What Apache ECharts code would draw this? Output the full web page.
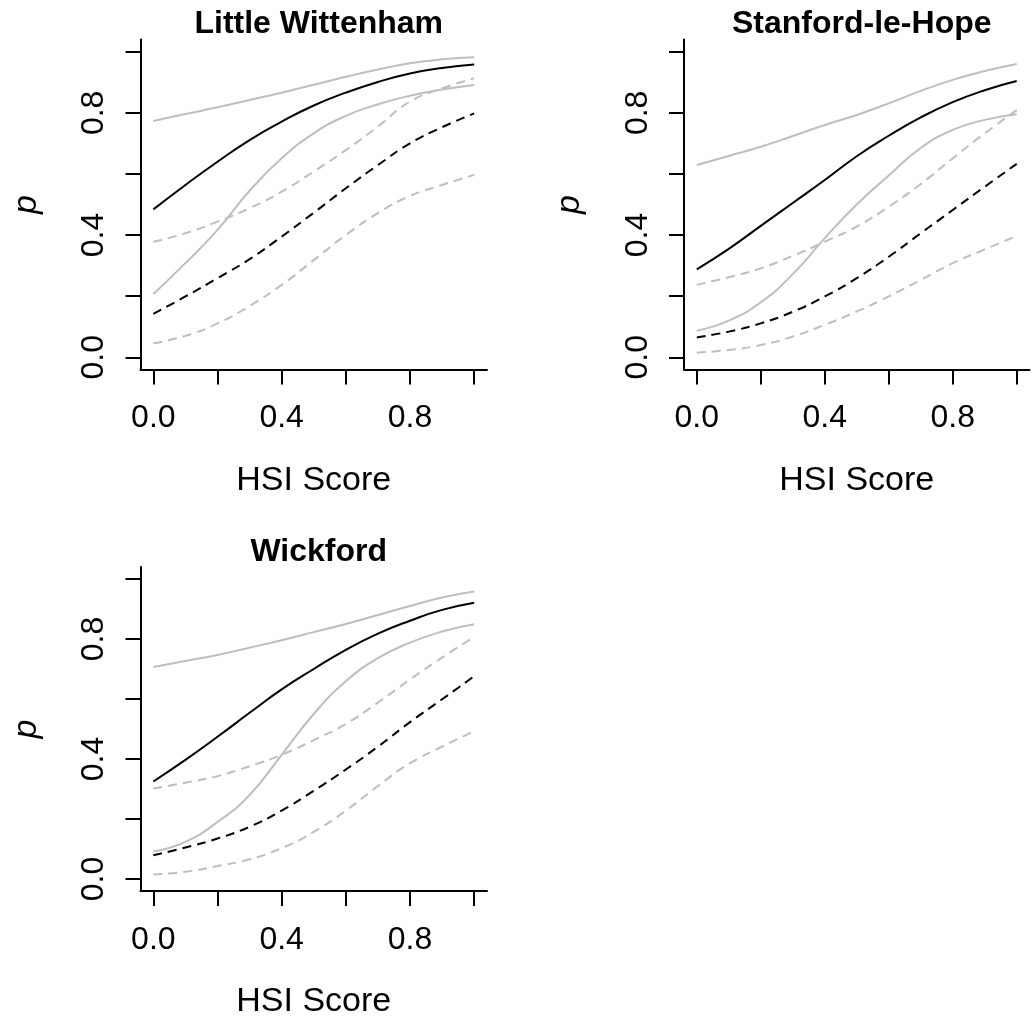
<!DOCTYPE html>
<html>
<head>
<meta charset="utf-8">
<script src="https://cdn.jsdelivr.net/npm/echarts@6/dist/echarts.min.js"></script>
<style>
html,body{margin:0;padding:0;background:#fff;}
#main{width:1035px;height:1020px;}
</style>
</head>
<body>
<div id="main"></div>
<script>
// HSI score sample points (x)
const hsi = [0, 0.1, 0.2, 0.3, 0.4, 0.5, 0.6, 0.7, 0.8, 0.9, 1.0];

const panelTitles = ['Little Wittenham', 'Stanford-le-Hope', 'Wickford'];
const xTicks = [0, 0.2, 0.4, 0.6, 0.8, 1.0];
const xTickLabels = [0, 0.4, 0.8];
const yTicks = [0, 0.2, 0.4, 0.6, 0.8, 1.0];
const yTickLabels = [0, 0.4, 0.8];
const xAxisTitle = 'HSI Score';
const yAxisTitle = 'p';

// Little Wittenham
const lwSolidMean  = [0.484, 0.564, 0.640, 0.711, 0.771, 0.824, 0.866, 0.901, 0.929, 0.947, 0.958];
const lwSolidUpper = [0.773, 0.796, 0.818, 0.842, 0.866, 0.892, 0.918, 0.942, 0.962, 0.975, 0.982];
const lwSolidLower = [0.207, 0.308, 0.417, 0.545, 0.651, 0.733, 0.790, 0.828, 0.856, 0.876, 0.891];
const lwDashMean   = [0.142, 0.199, 0.259, 0.321, 0.395, 0.473, 0.553, 0.629, 0.700, 0.753, 0.798];
const lwDashUpper  = [0.378, 0.406, 0.444, 0.488, 0.542, 0.608, 0.678, 0.755, 0.837, 0.880, 0.913];
const lwDashLower  = [0.046, 0.070, 0.111, 0.168, 0.237, 0.318, 0.400, 0.472, 0.528, 0.564, 0.597];

// Stanford-le-Hope
const shSolidMean  = [0.288, 0.355, 0.430, 0.505, 0.580, 0.658, 0.725, 0.785, 0.835, 0.874, 0.904];
const shSolidUpper = [0.629, 0.659, 0.689, 0.724, 0.760, 0.793, 0.831, 0.872, 0.908, 0.937, 0.960];
const shSolidLower = [0.087, 0.120, 0.180, 0.272, 0.390, 0.500, 0.595, 0.685, 0.744, 0.777, 0.795];
const shDashMean   = [0.065, 0.084, 0.111, 0.149, 0.199, 0.259, 0.329, 0.406, 0.482, 0.558, 0.633];
const shDashUpper  = [0.237, 0.262, 0.291, 0.332, 0.378, 0.428, 0.493, 0.567, 0.651, 0.733, 0.809];
const shDashLower  = [0.015, 0.024, 0.040, 0.068, 0.106, 0.150, 0.199, 0.253, 0.308, 0.353, 0.397];

// Wickford
const wkSolidMean  = [0.325, 0.397, 0.474, 0.554, 0.632, 0.700, 0.764, 0.818, 0.861, 0.897, 0.921];
const wkSolidUpper = [0.707, 0.727, 0.747, 0.771, 0.796, 0.823, 0.850, 0.880, 0.910, 0.938, 0.958];
const wkSolidLower = [0.092, 0.124, 0.190, 0.280, 0.414, 0.550, 0.659, 0.736, 0.788, 0.825, 0.849];
const wkDashMean   = [0.079, 0.105, 0.135, 0.174, 0.228, 0.294, 0.365, 0.441, 0.523, 0.599, 0.676];
const wkDashUpper  = [0.302, 0.321, 0.343, 0.376, 0.414, 0.463, 0.517, 0.588, 0.665, 0.738, 0.807];
const wkDashLower  = [0.015, 0.024, 0.043, 0.066, 0.103, 0.157, 0.228, 0.310, 0.386, 0.441, 0.493];

const panels = [
  [lwSolidMean, lwSolidUpper, lwSolidLower, lwDashMean, lwDashUpper, lwDashLower],
  [shSolidMean, shSolidUpper, shSolidLower, shDashMean, shDashUpper, shDashLower],
  [wkSolidMean, wkSolidUpper, wkSolidLower, wkDashMean, wkDashUpper, wkDashLower]
];

const FONT = '"Liberation Sans", Arial, Helvetica, sans-serif';
const BLACK = '#000000';
const GREY = '#bebebe';

const gridBoxes = [
  {left: 140.5, top: 39.5, width: 346.5, height: 330},
  {left: 684, top: 39.5, width: 345.5, height: 330},
  {left: 140.5, top: 567, width: 346.5, height: 330}
];

const grids = [], xAxes = [], yAxes = [], series = [], titles = [];
const fmt = v => v.toFixed(1);

gridBoxes.forEach((g, i) => {
  grids.push(Object.assign({containLabel: false}, g));
  titles.push({
    text: panelTitles[i],
    left: g.left + g.width / 2,
    top: g.top - 36,
    textAlign: 'center',
    textStyle: {fontFamily: FONT, fontWeight: 'bold', fontSize: 32, color: BLACK}
  });
  xAxes.push({
    gridIndex: i, type: 'value', min: -0.04, max: 1.04,
    axisLine: {show: true, onZero: false, lineStyle: {color: BLACK, width: 2}},
    axisTick: {show: true, inside: false, length: 15, customValues: xTicks, lineStyle: {color: BLACK, width: 2}},
    axisLabel: {show: true, customValues: xTickLabels, formatter: fmt, margin: 33,
                fontFamily: FONT, fontSize: 32, color: BLACK},
    splitLine: {show: false},
    name: xAxisTitle, nameLocation: 'middle', nameGap: 94,
    nameTextStyle: {fontFamily: FONT, fontSize: 34, color: BLACK}
  });
  yAxes.push({
    gridIndex: i, type: 'value', min: -0.04, max: 1.04,
    axisLine: {show: true, onZero: false, lineStyle: {color: BLACK, width: 2}},
    axisTick: {show: true, inside: false, length: 15, customValues: yTicks, lineStyle: {color: BLACK, width: 2}},
    axisLabel: {show: true, customValues: yTickLabels, formatter: fmt, margin: 30, rotate: 90,
                fontFamily: FONT, fontSize: 32, color: BLACK},
    splitLine: {show: false},
    name: yAxisTitle, nameLocation: 'middle', nameGap: 97, nameRotate: 90,
    nameTextStyle: {fontFamily: FONT, fontSize: 34, fontStyle: 'italic', color: BLACK}
  });

  const styles = [
    {color: BLACK, type: 'solid'},
    {color: GREY, type: 'solid'},
    {color: GREY, type: 'solid'},
    {color: BLACK, type: [9, 6]},
    {color: GREY, type: [9, 6]},
    {color: GREY, type: [9, 6]}
  ];
  // draw grey first, black on top
  const order = [1, 2, 4, 5, 0, 3];
  order.forEach(k => {
    series.push({
      type: 'line',
      xAxisIndex: i, yAxisIndex: i,
      data: hsi.map((x, j) => [x, panels[i][k][j]]),
      smooth: 0.5,
      showSymbol: false,
      silent: true,
      animation: false,
      lineStyle: {color: styles[k].color, type: styles[k].type, width: 2}
    });
  });
});

const chart = echarts.init(document.getElementById('main'), null, {renderer: 'canvas'});
chart.setOption({
  backgroundColor: '#ffffff',
  animation: false,
  title: titles,
  grid: grids,
  xAxis: xAxes,
  yAxis: yAxes,
  series: series
});
</script>
</body>
</html>
